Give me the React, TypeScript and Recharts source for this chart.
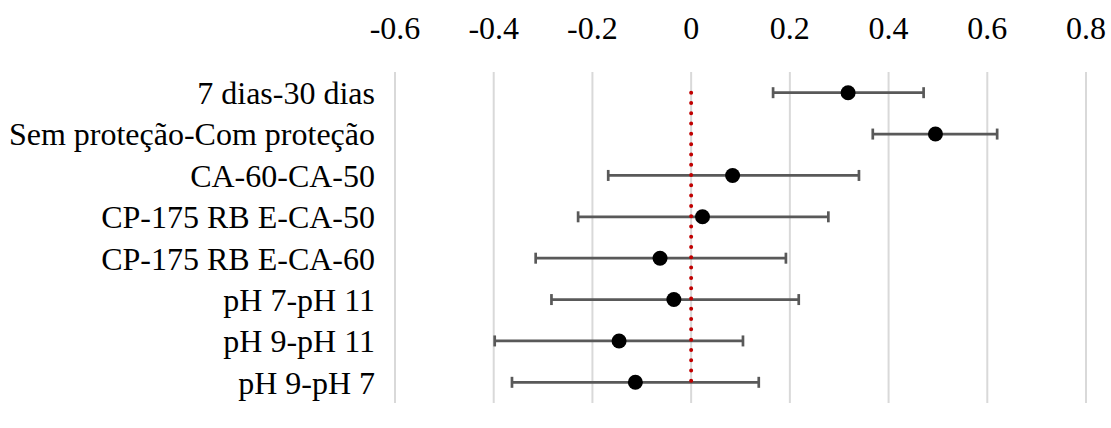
import React from "react";
import {
  ScatterChart,
  Scatter,
  XAxis,
  YAxis,
  CartesianGrid,
  ErrorBar,
} from "recharts";

const categories = [
  "7 dias-30 dias",
  "Sem proteção-Com proteção",
  "CA-60-CA-50",
  "CP-175 RB E-CA-50",
  "CP-175 RB E-CA-60",
  "pH 7-pH 11",
  "pH 9-pH 11",
  "pH 9-pH 7",
];
const estimates = [0.318, 0.495, 0.084, 0.023, -0.063, -0.035, -0.146, -0.113];
const lowerBounds = [0.166, 0.368, -0.168, -0.229, -0.315, -0.283, -0.398, -0.363];
const upperBounds = [0.471, 0.62, 0.34, 0.278, 0.192, 0.218, 0.105, 0.137];
const xTicks = [-0.6, -0.4, -0.2, 0, 0.2, 0.4, 0.6, 0.8];

const points = categories.map((name, i) => ({
  name,
  diff: estimates[i],
  err: [estimates[i] - lowerBounds[i], upperBounds[i] - estimates[i]],
}));

// zero line drawn through the first and last comparison
const zeroLine = categories.map((name) => ({ name, diff: 0 }));

const FONT = "'Liberation Serif', 'Times New Roman', serif";

const Dot = (props: any) => {
  const { cx, cy } = props;
  if (cx == null || cy == null) return <g />;
  return <circle cx={cx} cy={cy} r={7.5} fill="#000000" />;
};

const NoDot = () => <g />;

const App: React.FC = () => {
  return (
    <div style={{ position: "absolute", left: 0, top: 0, width: 1111, height: 428, background: "#ffffff" }}>
      <ScatterChart
        width={1111}
        height={428}
        margin={{ top: 0, right: 25, bottom: 25, left: 0 }}
      >
        <CartesianGrid horizontal={false} stroke="#d9d9d9" strokeWidth={2} />
        <XAxis
          type="number"
          dataKey="diff"
          orientation="top"
          domain={[-0.6, 0.8]}
          ticks={xTicks}
          height={72}
          axisLine={false}
          tickLine={false}
          tickSize={0}
          tickMargin={33}
          tickFormatter={(v: number) => (v === 0 ? "0" : String(Math.round(v * 10) / 10))}
          tick={{ fill: "#000000", fontSize: 32, fontFamily: FONT }}
        />
        <YAxis
          type="category"
          dataKey="name"
          allowDuplicatedCategory={false}
          reversed
          width={395}
          axisLine={false}
          tickLine={false}
          tickSize={0}
          tickMargin={20}
          interval={0}
          tick={{ fill: "#000000", fontSize: 32, fontFamily: FONT }}
        />
        <Scatter
          data={zeroLine}
          line={{ stroke: "#c00000", strokeWidth: 4, strokeDasharray: "0 10.29", strokeLinecap: "round" }}
          shape={<NoDot />}
          isAnimationActive={false}
        />
        <Scatter data={points} shape={<Dot />} isAnimationActive={false}>
          <ErrorBar
            dataKey="err"
            direction="x"
            width={5.5}
            stroke="#595959"
            strokeWidth={2.7}
          />
        </Scatter>
      </ScatterChart>
    </div>
  );
};

export default App;
